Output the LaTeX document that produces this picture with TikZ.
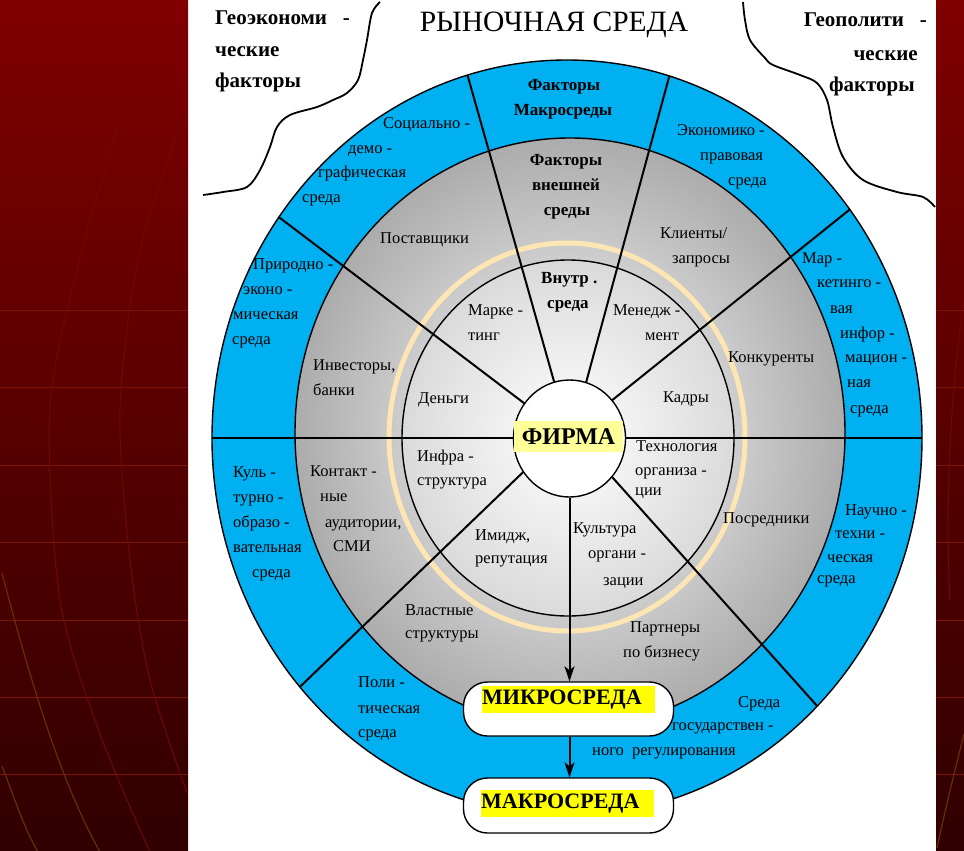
\documentclass[tikz,border=0pt]{standalone}
\usepackage{fontspec}
\setmainfont{Liberation Serif}
\usetikzlibrary{arrows.meta,shapes.geometric}
\definecolor{macroblue}{RGB}{0,176,240}
\definecolor{ringgray}{RGB}{172,172,172}
\definecolor{innergray}{RGB}{218,218,218}
\definecolor{creamring}{RGB}{253,230,180}
\definecolor{paleyellow}{RGB}{255,255,153}
\definecolor{hlyellow}{RGB}{255,255,0}
\definecolor{paneltop}{RGB}{128,0,0}
\definecolor{panelbot}{RGB}{48,0,0}
\definecolor{panelline}{RGB}{125,20,10}
\definecolor{panelcurve}{RGB}{112,8,8}
\definecolor{panelbrown}{RGB}{105,45,5}
\tikzset{
  lbl/.style={anchor=base west, inner sep=0pt, font=\fontsize{16.5}{16.5}\selectfont},
  lblb/.style={anchor=base, inner sep=0pt, font=\fontsize{17}{17}\selectfont\bfseries},
  corner/.style={inner sep=0pt, font=\fontsize{21}{21}\selectfont\bfseries},
  spoke/.style={line width=2pt, black},
  ringline/.style={line width=1.4pt, black},
  envbox/.style={draw, line width=1.4pt, fill=white, rounded corners=24pt, minimum width=210pt, minimum height=54pt, inner sep=0pt},
  hltext/.style={inner sep=0pt, minimum height=27pt, text width=173pt, align=left, font=\fontsize{22}{22}\selectfont\bfseries},
  flowarrow/.style={line width=2pt, -{Stealth[length=15pt,width=10pt,inset=4pt]}}
}
\begin{document}
\begin{tikzpicture}[x=1pt,y=-1pt]
\useasboundingbox (0,0) rectangle (964,851);
\fill[white] (0,0) rectangle (964,851);
% side panels
\shade[top color=paneltop, bottom color=panelbot] (0,0) rectangle (188,851);
\shade[top color=paneltop, bottom color=panelbot] (936,0) rectangle (964,851);
\begin{scope}
\clip (0,0) rectangle (188,851) (936,0) rectangle (964,851);
\foreach \yy in {310,387,465,542,620,697,774}{
  \draw[panelline, line width=0.6pt] (0,\yy) -- (188,\yy);
  \draw[panelline, line width=0.6pt] (936,\yy) -- (964,\yy);
}
\draw[panelcurve, line width=1pt] plot[smooth] coordinates {(127,98) (82,250) (50,408) (60,600) (100,734) (150,852)};
\draw[panelcurve, line width=1pt] plot[smooth] coordinates {(187,109) (140,250) (120,408) (130,560) (150,680) (187,793)};
\draw[panelbrown, line width=1.2pt] (2,573) .. controls (30,680) and (60,780) .. (100,852);
\draw[panelbrown, line width=1.2pt] (2,766) .. controls (15,800) and (25,830) .. (38,852);
\draw[panelbrown, line width=1.2pt] (964,734) .. controls (955,770) and (945,810) .. (937,848);
\draw[panelcurve, line width=1pt] (964,300) .. controls (950,400) and (945,500) .. (950,600);
\end{scope}
% wavy boundaries
\draw[line width=1.8pt] plot[smooth, tension=0.55] coordinates {(380,2) (372,13) (367,40) (363,60) (358,80) (347,93) (333,100) (317,107) (290,115) (277,127) (270,147) (260,170) (247,187) (223,192) (203,195)};
\draw[line width=1.8pt] plot[smooth, tension=0.55] coordinates {(743,2) (745,20) (750,40) (765,58) (773,65) (800,75) (817,83) (827,100) (833,127) (843,157) (863,180) (897,192) (923,197) (935,207)};
% rings
\fill[macroblue] (567,438) ellipse [x radius=355pt, y radius=378pt];
\shade[inner color=white, outer color=ringgray] (570,433) ellipse [x radius=275pt, y radius=295pt];
\draw[ringline] (570,433) ellipse [x radius=275pt, y radius=295pt];
\draw[creamring, line width=5pt] (567,437) ellipse [x radius=178pt, y radius=194pt];
\shade[inner color=white, outer color=innergray] (568,438) ellipse [x radius=166pt, y radius=178pt];
\draw[ringline] (568,438) ellipse [x radius=166pt, y radius=178pt];
% spokes
\begin{scope}
\clip (567,438) ellipse [x radius=355pt, y radius=378pt];
\draw[spoke] (570,438) -- (197,155);
\draw[spoke] (570,438) -- (446,-1);
\draw[spoke] (571,438) -- (690,0);
\draw[spoke] (570,434) -- (970,113);
\draw[spoke] (570,430) -- (921,822);
\draw[spoke] (570,427) -- (200,783);
\draw[spoke] (190,438) -- (945,438);
\end{scope}
\draw[ringline] (567,438) ellipse [x radius=355pt, y radius=378pt];
% firm
\node (firm) [draw, line width=1.4pt, fill=white, ellipse, minimum width=112pt, minimum height=117pt, inner sep=0pt] at (569.5,438.5) {};
\node (firmtxt) [fill=paleyellow, inner sep=0pt, minimum width=109pt, minimum height=31pt, font=\fontsize{24}{24}\selectfont\bfseries] at (568.5,436.5) {ФИРМА};
% boxes
\node (mikro) [envbox] at (568.5,709) {};
\node (mikrotxt) [hltext, fill=hlyellow, anchor=west] at (482,699.5) {МИКРОСРЕДА};
\node (makro) [envbox, minimum height=55pt] at (568.5,805.5) {};
\node (makrotxt) [hltext, fill=hlyellow, anchor=west] at (481,803.5) {МАКРОСРЕДА};
\draw[flowarrow] (firm.south) -- (firm.south |- mikro.north);
\draw[flowarrow] (mikro.south -| firm.south) -- (firm.south |- makro.north);
% title and corners
\node (title) [anchor=base, inner sep=0pt, font=\fontsize{29.5}{29.5}\selectfont] at (554,32) {РЫНОЧНАЯ СРЕДА};
\node (geo1) [corner, anchor=base west] at (215,25) {Геоэкономи\ \ \ -};
\node (geo2) [corner, anchor=base west] at (215,57) {ческие};
\node (geo3) [corner, anchor=base west] at (215,88) {факторы};
\node (gp1) [corner, anchor=base east] at (927,27) {Геополити\ \ \ -};
\node (gp2) [corner, anchor=base east] at (918,60) {ческие};
\node (gp3) [corner, anchor=base east] at (915,92) {факторы};
% macro ring labels
\node (fm1) [lblb] at (564,90) {Факторы};
\node (fm2) [lblb] at (563,115) {Макросреды};
\node (soc1) [lbl] at (383,128) {Социально -};
\node (soc2) [lbl] at (348,153) {демо -};
\node (soc3) [lbl] at (318,177) {графическая};
\node (soc4) [lbl] at (302,202) {среда};
\node (eco1) [lbl] at (677,135) {Экономико -};
\node (eco2) [lbl] at (700,160) {правовая};
\node (eco3) [lbl] at (728,185) {среда};
\node (pri1) [lbl] at (253,269) {Природно -};
\node (pri2) [lbl] at (243,294) {эконо -};
\node (pri3) [lbl] at (233,319) {мическая};
\node (pri4) [lbl] at (232,344) {среда};
\node (mar1) [lbl] at (802,263) {Мар -};
\node (mar2) [lbl] at (817,287) {кетинго -};
\node (mar3) [lbl] at (830,313) {вая};
\node (mar4) [lbl] at (840,338) {инфор -};
\node (mar5) [lbl] at (845,362) {мацион -};
\node (mar6) [lbl] at (847,387) {ная};
\node (mar7) [lbl] at (850,413) {среда};
\node (kul1) [lbl] at (233,477) {Куль -};
\node (kul2) [lbl] at (233,502) {турно -};
\node (kul3) [lbl] at (233,527) {образо -};
\node (kul4) [lbl] at (233,552) {вательная};
\node (kul5) [lbl] at (252,577) {среда};
\node (nau1) [lbl] at (845,515) {Научно -};
\node (nau2) [lbl] at (835,538) {техни -};
\node (nau3) [lbl] at (827,562) {ческая};
\node (nau4) [lbl] at (817,583) {среда};
\node (pol1) [lbl] at (358,687) {Поли -};
\node (pol2) [lbl] at (358,713) {тическая};
\node (pol3) [lbl] at (358,737) {среда};
\node (gos1) [lbl] at (738,707) {Среда};
\node (gos2) [lbl] at (672,730) {государствен -};
\node (gos3) [lbl] at (592,755) {ного\ \ регулирования};
% micro ring labels
\node (fv1) [lblb] at (566,165) {Факторы};
\node (fv2) [lblb] at (566,190) {внешней};
\node (fv3) [lblb] at (567,215) {среды};
\node (pos) [lbl] at (380,243) {Поставщики};
\node (kli1) [lbl] at (660,238) {Клиенты/};
\node (kli2) [lbl] at (672,263) {запросы};
\node (inv1) [lbl] at (313,370) {Инвесторы,};
\node (inv2) [lbl] at (313,395) {банки};
\node (kon) [lbl] at (728,362) {Конкуренты};
\node (kont1) [lbl] at (310,476) {Контакт -};
\node (kont2) [lbl] at (320,501) {ные};
\node (kont3) [lbl] at (325,527) {аудитории,};
\node (kont4) [lbl] at (333,551) {СМИ};
\node (posr) [lbl] at (723,523) {Посредники};
\node (vla1) [lbl] at (405,615) {Властные};
\node (vla2) [lbl] at (405,638) {структуры};
\node (par1) [lbl] at (630,632) {Партнеры};
\node (par2) [lbl] at (623,657) {по бизнесу};
% inner ring labels
\node (vn1) [lblb, anchor=base west] at (541,283) {Внутр .};
\node (vn2) [lblb, anchor=base west] at (547,308) {среда};
\node (mk1) [lbl] at (468,315) {Марке -};
\node (mk2) [lbl] at (468,340) {тинг};
\node (me1) [lbl] at (613,315) {Менедж -};
\node (me2) [lbl] at (645,340) {мент};
\node (den) [lbl] at (418,403) {Деньги};
\node (kad) [lbl] at (663,402) {Кадры};
\node (inf1) [lbl] at (417,461) {Инфра -};
\node (inf2) [lbl] at (417,485) {структура};
\node (teh1) [lbl] at (636,451) {Технология};
\node (teh2) [lbl] at (635,475) {организа -};
\node (teh3) [lbl] at (635,495) {ции};
\node (im1) [lbl] at (475,540) {Имидж,};
\node (im2) [lbl] at (475,563) {репутация};
\node (ku1) [lbl] at (573,533) {Культура};
\node (ku2) [lbl] at (588,558) {органи -};
\node (ku3) [lbl] at (603,585) {зации};
\end{tikzpicture}
\end{document}
